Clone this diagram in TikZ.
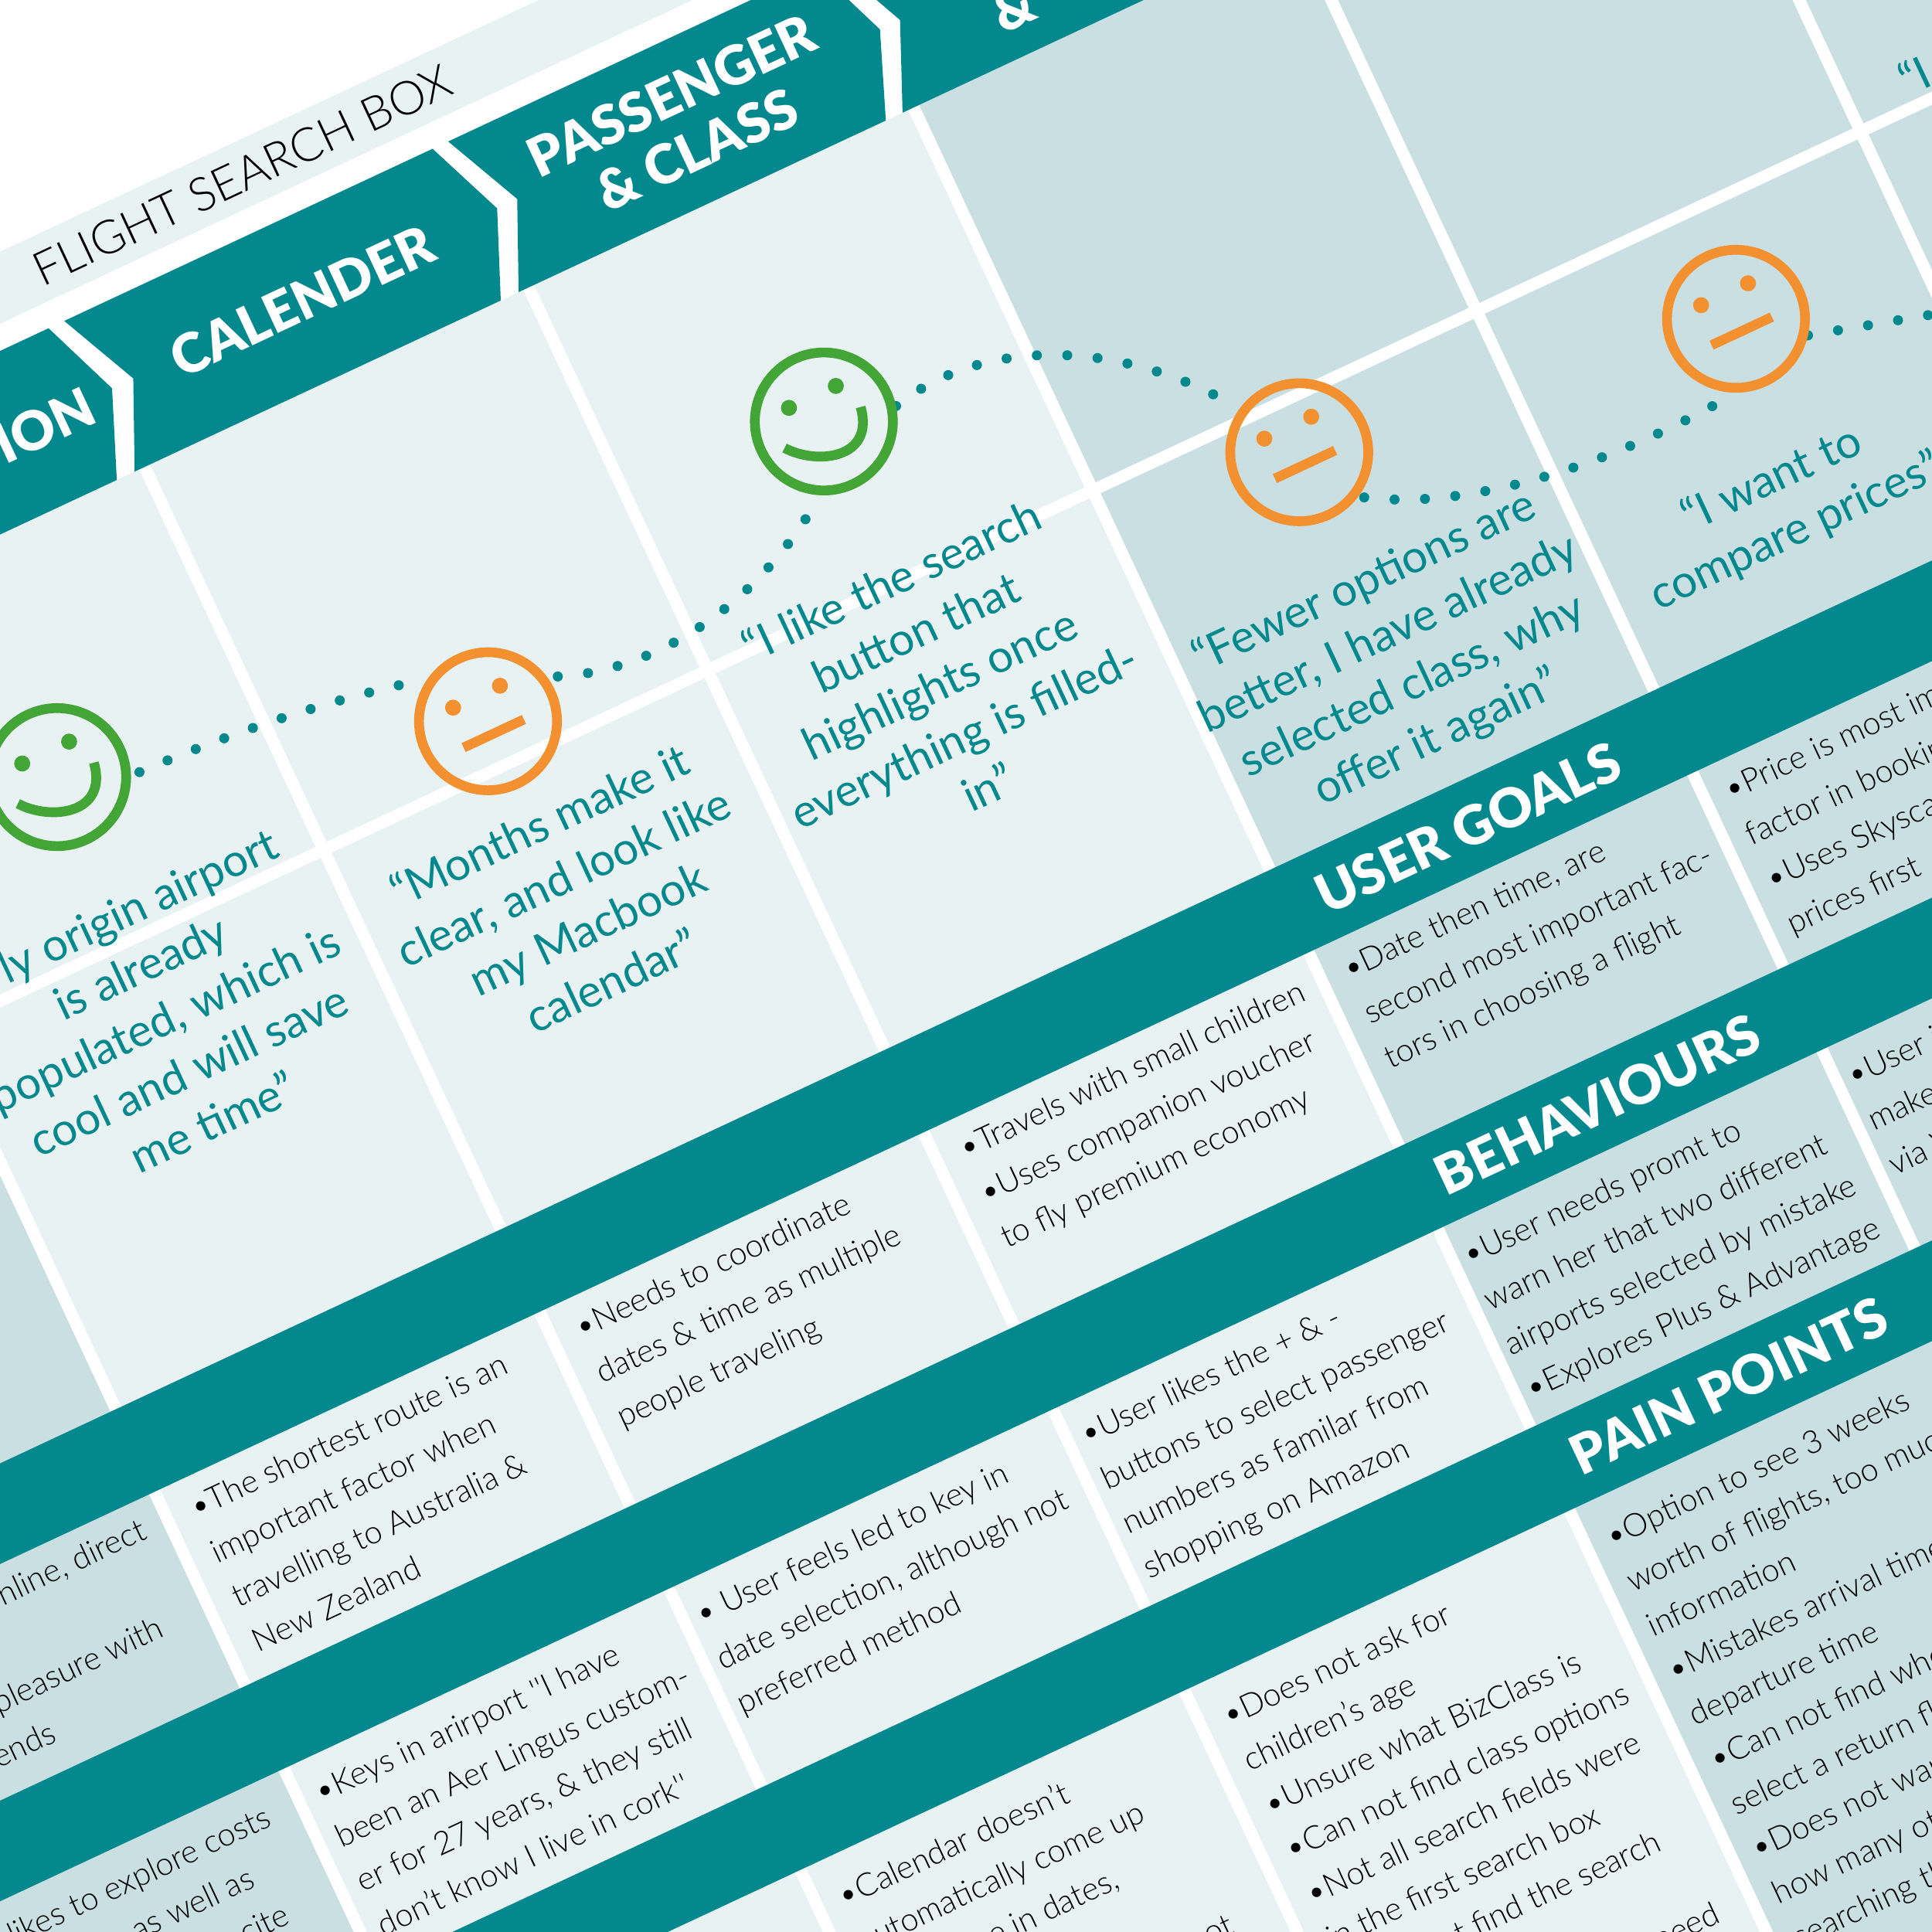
\documentclass[tikz,border=0pt]{standalone}
\usepackage{fontspec}
\setmainfont{Lato}
\newfontfamily\bodyfont{Lato Light}
\newfontfamily\headfont{Lato Black}
\usepackage{xcolor}
\definecolor{panelteal}{HTML}{03888D}
\definecolor{celllight}{HTML}{E8F2F3}
\definecolor{celldark}{HTML}{C9DFE2}
\definecolor{faceorange}{HTML}{F39130}
\definecolor{facegreen}{HTML}{43A536}
\usetikzlibrary{calc}
\tikzset{
    bandlabel/.style={font=\headfont\fontsize{20}{22}\selectfont, text=white, align=center, inner sep=0pt},
    quotetext/.style={font=\fontsize{16.6}{21}\selectfont, text=panelteal, align=center, inner sep=0pt},
    notetext/.style={font=\bodyfont\fontsize{11.8}{18.1}\selectfont, text=black, align=left, inner sep=0pt, anchor=north west},
    cliptext/.style={font=\bodyfont\fontsize{11.8}{18.1}\selectfont, text=black, inner sep=0pt, anchor=base east},
    facespot/.style={circle, minimum size=54.4pt, inner sep=0pt, outer sep=0pt},
    dotline/.style={panelteal, line width=3.7pt, line cap=round, dash pattern=on 0pt off 11.2pt},
    gridline/.style={white, line width=4.4pt},
}
\begin{document}
\begin{tikzpicture}[x=0.015944cm, y=0.015944cm]
    \useasboundingbox (0, 0) rectangle (1568, 1568);
    \clip (0, 0) rectangle (1568, 1568);
    \begin{scope}[rotate around={-0.15:(700, 800)}]
    \begin{scope}[rotate=25.2, transform shape]
    % 底色
    \fill[celllight] (-300, -800) rectangle (1300, 1025);
    \fill[celldark] (-300, -800) rectangle (266, 682);
    \fill[celldark] (1300, -800) rectangle (2500, 1025);
    \fill[celllight] (-300, 1180) rectangle (2000, 1233);

    % 分隔线
    \foreach \u in {266, 611, 955, 1300, 1644, 1988}
        \draw[gridline] (\u, -800) -- (\u, 1025);
    \draw[gridline] (-300, 682) -- (2500, 682);

    % 三条横带
    \fill[panelteal] (-300, 268) rectangle (2500, 342);
    \fill[panelteal] (-300, 20) rectangle (2500, 94);
    \fill[panelteal] (-300, -232) rectangle (2500, -158);

    % 表头
    \fill[panelteal] (-300, 1160) -- (588, 1160) -- (614, 1094) -- (586, 1025) -- (-300, 1025) -- cycle;
    \fill[panelteal] (602, 1160) -- (932, 1160) -- (959, 1094) -- (930, 1025) -- (602, 1025) -- (633, 1094) -- cycle;
    \fill[panelteal] (946, 1160) -- (1276, 1160) -- (1302, 1094) -- (1275, 1025) -- (946, 1025) -- (977, 1094) -- cycle;
    \fill[panelteal] (1290, 1160) -- (1619, 1160) -- (1646, 1094) -- (1619, 1025) -- (1290, 1025) -- (1320, 1094) -- cycle;

    \node[font=\bodyfont\fontsize{17.2}{21}\selectfont, inner sep=0pt] (stripname) at (783, 1206) {FLIGHT SEARCH BOX};
    \node[bandlabel, anchor=east] (headone) at (594, 1090) {ION};
    \node[bandlabel] (headtwo) at (784, 1093) {CALENDER};
    \node[bandlabel] (headthree) at (1126, 1093) {PASSENGER\\\& CLASS};
    \node[bandlabel] (headfour) at (1407, 1064) {\&};

    % 横带标题
    \node[bandlabel] (goalshead) at (1460, 305) {USER GOALS};
    \node[bandlabel] (behavhead) at (1460, 57) {BEHAVIOURS};
    \node[bandlabel] (painhead) at (1460, -195) {PAIN POINTS};

    % 引语
    \node[quotetext] (quoteone) at (436, 613) {“My origin airport\\is already\\populated, which is\\cool and will save\\me time”};
    \node[quotetext] (quotetwo) at (778, 557) {“Months make it\\clear, and look like\\my Macbook\\calendar”};
    \node[quotetext] (quotethree) at (1121, 593) {“I like the search\\button that\\highlights once\\everything is filled-\\in”};
    \node[quotetext] (quotefour) at (1468, 451) {“Fewer options are\\better, I have already\\selected class, why\\offer it again”};
    \node[quotetext] (quotefive) at (1803, 433) {“I want to\\compare prices”};
    \node[quotetext] (quotesix) at (2047, 705) {“I};

    % 第一行
    \node[cliptext] (goalsa) at (246, 236) {online, direct};
    \node[cliptext] (goalsb) at (225, 158) {pleasure with};
    \node[cliptext] (goalsc) at (110, 118) {ends};
    \node[notetext] (goalsd) at (287, 253) {•The shortest route is an\\important factor when\\travelling to Australia \&\\New Zealand};
    \node[notetext] (goalse) at (632, 253) {•Needs to coordinate\\dates \& time as multiple\\people traveling};
    \node[notetext] (goalsf) at (976, 253) {•Travels with small children\\•Uses companion voucher\\to fly premium economy};
    \node[notetext] (goalsg) at (1320, 253) {•Date then time, are\\second most important fac-\\tors in choosing a flight};
    \node[notetext] (goalsh) at (1662, 253) {•Price is most important\\factor in booking\\•Uses Skyscanner\\prices first};

    % 第二行
    \node[cliptext] (behava) at (239, -18) {likes to explore costs};
    \node[cliptext] (behavb) at (206, -57) {as well as};
    \node[cliptext] (behavc) at (219, -96) {cite};
    \node[notetext] (behavd) at (281, 1) {•Keys in arirport ''I have\\been an Aer Lingus custom-\\er for 27 years, \& they still\\don’t know I live in cork''};
    \node[notetext] (behave) at (622, 1) {• User feels led to key in\\date selection, although not\\preferred method};
    \node[notetext] (behavf) at (967, 1) {•User likes the + \& -\\buttons to select passenger\\numbers as familar from\\shopping on Amazon};
    \node[notetext] (behavg) at (1310, 1) {•User needs promt to\\warn her that two different\\airports selected by mistake\\•Explores Plus \& Advantage};
    \node[notetext] (behavh) at (1654, 1) {•User is\\makes\\via Visa};

    % 第三行
    \node[notetext] (painb) at (630, -255) {•Calendar doesn’t\\automatically come up\\can’t type in dates,};
    \node[cliptext] (painc) at (910, -428) {not};
    \node[notetext] (paind) at (975, -255) {•Does not ask for\\children’s age\\•Unsure what BizClass is\\•Can not find class options\\•Not all search fields were\\in the first search box\\•Can not find the search};
    \node[cliptext] (paine) at (1271, -587) {need};
    \node[notetext] (painf) at (1318, -255) {•Option to see 3 weeks\\worth of flights, too much\\information\\•Mistakes arrival time\\departure time\\•Can not find where\\select a return flight\\•Does not want\\how many other\\searching the};

    % 表情位置
    \node[facespot] (smileone) at (440, 827) {};
    \node[facespot] (flatone) at (776, 720) {};
    \node[facespot] (smiletwo) at (1126, 825) {};
    \node[facespot] (flattwo) at (1465, 639) {};
    \node[facespot] (flatthree) at (1832, 587) {};
    \coordinate (trailend) at (2049, 503);

    % 连接点线
    \draw[dotline, dash phase=7.8pt] (smileone.-24) .. controls (586, 800) and (670, 790) .. (flatone.120);
    \draw[dotline, dash phase=7.2pt] (flatone.12) .. controls (904, 700) and (1007, 707) .. (smiletwo.242);
    \draw[dotline] (smiletwo.-13) .. controls (1277, 834) and (1378, 778) .. (flattwo.119);
    \draw[dotline, dash phase=9pt] (flattwo.-62) .. controls (1568, 537) and (1693, 522) .. (flatthree.-115);
    \draw[dotline] (flatthree.-38) -- (trailend);

    % 脸
    \foreach \face/\col in {smileone/facegreen, flatone/faceorange, smiletwo/facegreen, flattwo/faceorange, flatthree/faceorange} {
        \draw[\col, line width=3.6pt] (\face) circle (56);
        \fill[\col] ($(\face)+(-21, 22)$) circle (6.5);
        \fill[\col] ($(\face)+(21, 22)$) circle (6.5);
    }
    \foreach \face in {flatone, flattwo, flatthree}
        \draw[faceorange, line width=3.6pt] ($(\face)+(-27, -11)$) -- ($(\face)+(27, -11)$);
    \foreach \face in {smileone, smiletwo}
        \draw[facegreen, line width=3.6pt] ($(\face)+(-38, -6)$) .. controls ($(\face)+(-20, -30)$) and ($(\face)+(25, -45)$) .. ($(\face)+(32, -2)$);
    \end{scope}
    \end{scope}
\end{tikzpicture}
\end{document}
